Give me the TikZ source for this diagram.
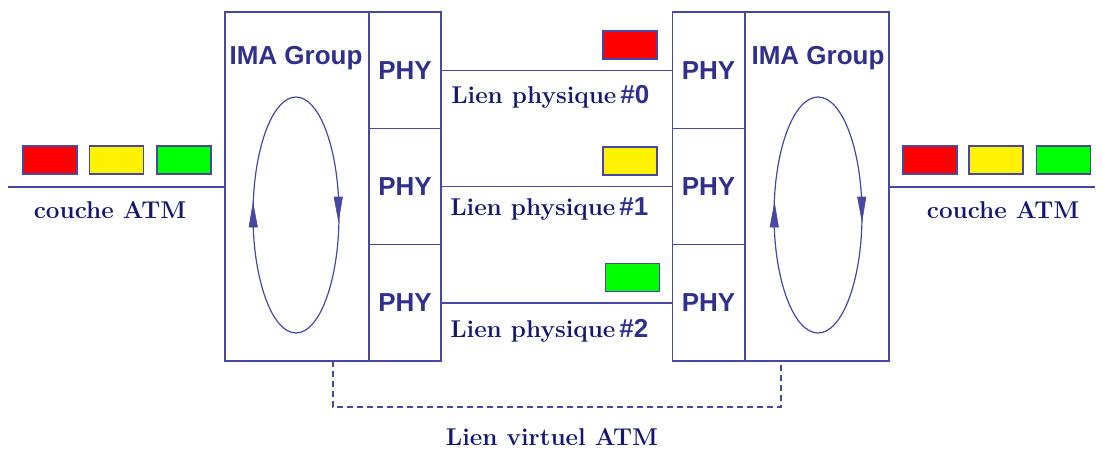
\documentclass[tikz,border=0pt]{standalone}
\usepackage{fontspec}
\setsansfont{Liberation Sans}
\usetikzlibrary{arrows.meta}
\definecolor{navy}{RGB}{22,22,112}
\definecolor{sanstxt}{RGB}{48,48,140}
\definecolor{linec}{RGB}{72,72,162}
\tikzset{
  frame/.style={draw=linec, line width=1pt, inner sep=0pt, outer sep=0pt},
  imabox/.style={frame, minimum width=108pt, minimum height=261.75pt},
  phybox/.style={frame, minimum width=54pt, minimum height=87.25pt,
     font=\sffamily\bfseries\fontsize{19.5}{22}\selectfont, text=sanstxt},
  cell/.style={draw=linec, line width=0.8pt, minimum width=40.5pt, minimum height=21pt, inner sep=0pt},
  conn/.style={draw=linec, line width=1pt},
  serif/.style={font=\bfseries\fontsize{18.2}{21}\selectfont, text=navy, inner sep=0pt},
  grp/.style={font=\sffamily\bfseries\fontsize{19.5}{22}\selectfont, text=sanstxt, inner sep=0pt},
  loop/.style={draw=linec, line width=0.9pt},
  tip/.style={fill=linec, draw=linec, line width=0.4pt, line join=miter},
}
\newcommand{\sfnum}[1]{{\sffamily\bfseries\fontsize{19.5}{22}\selectfont\color{sanstxt}#1}}
\begin{document}
\begin{tikzpicture}[x=0.75pt,y=-0.75pt]
\useasboundingbox (0,0) rectangle (1103,450);
% left group
\node[imabox] (imaL) at (297,186.5) {};
\node[phybox] (phyL0) at (405,70.17) {PHY};
\node[phybox] (phyL1) at (405,186.5) {PHY};
\node[phybox] (phyL2) at (405,302.83) {PHY};
\node[grp] (imaLt) at (296,58) {IMA Group};
\path[loop] (296,215) ellipse (43 and 118);
\path[tip] (334,197) -- (342.5,197) -- (338.5,221) -- cycle;
\path[tip] (249,227) -- (257.5,227) -- (253,203) -- cycle;
% right group
\node[phybox] (phyR0) at (708.5,70.17) {PHY};
\node[phybox] (phyR1) at (708.5,186.5) {PHY};
\node[phybox] (phyR2) at (708.5,302.83) {PHY};
\node[imabox] (imaR) at (817,186.5) {};
\node[grp] (imaRt) at (818,58) {IMA Group};
\path[loop] (818,215) ellipse (44 and 118);
\path[tip] (857.5,197) -- (866,197) -- (862,221) -- cycle;
\path[tip] (770,227) -- (778.5,227) -- (774.5,203) -- cycle;
% physical links
\draw[conn] (phyL0.east) -- (phyR0.west);
\draw[conn] (phyL1.east) -- (phyR1.west);
\draw[conn] (phyL2.east) -- (phyR2.west);
\node[serif, anchor=west] (lp0) at (451,97) {Lien physique\,\sfnum{\#0}};
\node[serif, anchor=west] (lp1) at (450,209) {Lien physique\,\sfnum{\#1}};
\node[serif, anchor=west] (lp2) at (450,331) {Lien physique\,\sfnum{\#2}};
\node[cell, fill=red] (m0) at (630,45) {};
\node[cell, fill=yellow] (m1) at (630,161) {};
\node[cell, fill=green] (m2) at (632.5,277.5) {};
% ATM layers
\coordinate (inL) at (8,187);
\coordinate (outR) at (1095,187);
\draw[conn] (inL) -- (inL -| imaL.west);
\draw[conn] (outR -| imaR.east) -- (outR);
\node[cell, fill=red] (l0) at (50,160) {};
\node[cell, fill=yellow] (l1) at (116.5,160) {};
\node[cell, fill=green] (l2) at (184,160) {};
\node[cell, fill=red] (r0) at (930,160) {};
\node[cell, fill=yellow] (r1) at (996,160) {};
\node[cell, fill=green] (r2) at (1063.5,160) {};
\node[serif] (cL) at (110,210) {couche ATM};
\node[serif] (cR) at (1003,210) {couche ATM};
% virtual link
\coordinate (vL) at (333,407);
\coordinate (vR) at (781,407);
\draw[conn, line width=0.8pt, dash pattern=on 4.5pt off 3pt] (imaL.south -| vL) -- (vL) -- (vR) -- (imaR.south -| vR);
\node[serif] (vl) at (552,437) {Lien virtuel ATM};
\end{tikzpicture}
\end{document}
